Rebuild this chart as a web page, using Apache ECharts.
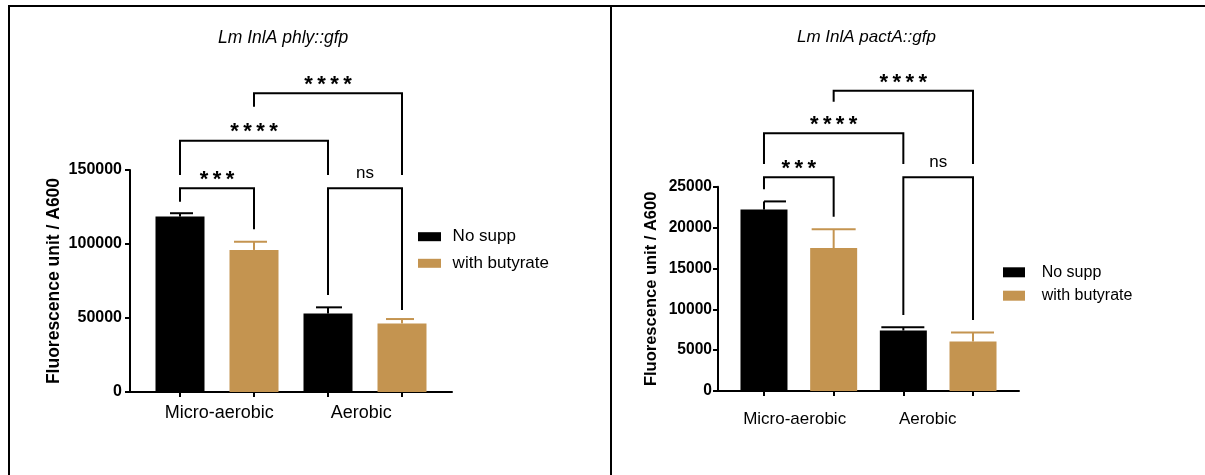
<!DOCTYPE html>
<html><head><meta charset="utf-8">
<script src="https://cdn.jsdelivr.net/npm/echarts@6/dist/echarts.min.js"></script>
<style>html,body{margin:0;padding:0;background:#fff}#c{width:1205px;height:475px}</style>
</head><body><div id="c"></div>
<script>
// ---------- data ----------
const categories = ['Micro-aerobic', 'Aerobic'];
const seriesNames = ['No supp', 'with butyrate'];
const titles = ['Lm InlA phly::gfp', 'Lm InlA pactA::gfp'];
const yAxisName = 'Fluorescence unit / A600';

// panel 1: Lm InlA phly::gfp
const phlyNoSupp = [118500, 53000];
const phlyButyrate = [96000, 46300];
const phlyNoSuppSD = [2300, 4200];
const phlyButyrateSD = [5500, 3000];
const phlyYTicks = [0, 50000, 100000, 150000];
// significance brackets: bar a, bar b (1..4), bracket level, left leg end, right leg end, label
const phlyBrackets = [
  [1, 2, 137600, 128600, 110000, '***'],
  [3, 4, 137600, 65500, 55400, 'ns'],
  [1, 3, 169800, 146600, 146600, '****'],
  [2, 4, 201800, 192800, 146600, '****']
];

// panel 2: Lm InlA pactA::gfp
const pactNoSupp = [22200, 7400];
const pactButyrate = [17500, 6050];
const pactNoSuppSD = [1000, 400];
const pactButyrateSD = [2300, 1100];
const pactYTicks = [0, 5000, 10000, 15000, 20000, 25000];
const pactBrackets = [
  [1, 2, 26150, 24700, 21330, '***'],
  [3, 4, 26150, 9300, 8700, 'ns'],
  [1, 3, 31530, 27770, 27770, '****'],
  [2, 4, 36740, 35400, 27770, '****']
];

// ---------- styling / layout ----------
const FONT = '"Liberation Sans", Arial, Helvetica, sans-serif';
const TAN = '#C49450';
const colors = ['#000000', TAN];

const panels = [
  {
    noSupp: phlyNoSupp, but: phlyButyrate, noSuppSD: phlyNoSuppSD, butSD: phlyButyrateSD,
    yTicks: phlyYTicks, brackets: phlyBrackets,
    grid: {left: 130, top: 170, width: 322, height: 222},
    barWidth: 49, labelPos: [1.53, 3.45], xMin: 0.3243, xMax: 4.6757,
    caps: [[-10, 13], [-20, 13], [-12, 14], [-16, 12]],
    xLabelSize: 18, xLabelMargin: 12, yLabelSize: 16, yLabelMargin: 8, nameSize: 17.5, nameGap: 67,
    title: {x: 218, y: 29, size: 17.5},
    legend: {left: 418, top: 227.7, w: 23, h: 9, size: 17, lh: 18, gap: 8.6, pad: 6.6}
  },
  {
    noSupp: pactNoSupp, but: pactButyrate, noSuppSD: pactNoSuppSD, butSD: pactButyrateSD,
    yTicks: pactYTicks, brackets: pactBrackets,
    grid: {left: 718, top: 186.7, width: 301, height: 204.3},
    barWidth: 47, labelPos: [1.44, 3.35], xMin: 0.34, xMax: 4.66,
    caps: [[0, 22], [-22, 22], [-22, 21], [-22, 21]],
    xLabelSize: 17, xLabelMargin: 20, yLabelSize: 15.6, yLabelMargin: 6, nameSize: 16.5, nameGap: 58,
    title: {x: 797, y: 29, size: 17},
    legend: {left: 1003, top: 264.3, w: 22, h: 10, size: 16, lh: 16, gap: 7.4, pad: 11.7}
  }
];

const option = {
  animation: false,
  backgroundColor: '#ffffff',
  textStyle: {fontFamily: FONT},
  title: [], grid: [], xAxis: [], yAxis: [], legend: [], series: [],
  graphic: [
    {type: 'line', shape: {x1: 8, y1: 6, x2: 1205, y2: 6}, style: {stroke: '#000', lineWidth: 2}},
    {type: 'line', shape: {x1: 9, y1: 5, x2: 9, y2: 475}, style: {stroke: '#000', lineWidth: 2}},
    {type: 'line', shape: {x1: 611, y1: 5, x2: 611, y2: 475}, style: {stroke: '#000', lineWidth: 2}}
  ]
};

panels.forEach((p, i) => {
  option.title.push({
    text: titles[i], left: p.title.x, top: p.title.y, padding: 0,
    textStyle: {fontFamily: FONT, fontStyle: 'italic', fontWeight: 'normal', fontSize: p.title.size, color: '#000'}
  });
  option.grid.push(Object.assign({containLabel: false, outerBoundsMode: 'none'}, p.grid));
  option.xAxis.push({
    type: 'value', gridIndex: i, min: p.xMin, max: p.xMax,
    splitLine: {show: false},
    axisLine: {show: true, onZero: false, lineStyle: {color: '#000', width: 2}},
    axisTick: {show: true, customValues: [1, 2, 3, 4], length: 5, lineStyle: {color: '#000', width: 2}},
    axisLabel: {
      customValues: p.labelPos, margin: p.xLabelMargin,
      fontFamily: FONT, fontSize: p.xLabelSize, color: '#000',
      formatter: v => {
        let best = 0;
        p.labelPos.forEach((lp, k) => { if (Math.abs(lp - v) < Math.abs(p.labelPos[best] - v)) best = k; });
        return categories[best];
      }
    }
  });
  const yMax = p.yTicks[p.yTicks.length - 1];
  option.yAxis.push({
    type: 'value', gridIndex: i, min: 0, max: yMax, interval: p.yTicks[1] - p.yTicks[0],
    name: yAxisName, nameLocation: 'middle', nameRotate: 90, nameGap: p.nameGap,
    nameTextStyle: {fontFamily: FONT, fontWeight: 'bold', fontSize: p.nameSize, color: '#000'},
    splitLine: {show: false},
    axisLine: {show: true, lineStyle: {color: '#000', width: 2}},
    axisTick: {show: true, length: 5, customValues: p.yTicks, lineStyle: {color: '#000', width: 2}},
    axisLabel: {customValues: p.yTicks, formatter: v => String(v), fontFamily: FONT, fontWeight: 'bold',
      fontSize: p.yLabelSize, color: '#000', margin: p.yLabelMargin}
  });
  option.legend.push({
    orient: 'vertical', left: p.legend.left, top: p.legend.top, padding: 0,
    itemWidth: p.legend.w, itemHeight: p.legend.h, itemGap: p.legend.gap, icon: 'rect',
    data: seriesNames, selectedMode: false,
    textStyle: {fontFamily: FONT, fontSize: p.legend.size, lineHeight: p.legend.lh, color: '#000', padding: [0, 0, 0, p.legend.pad]}
  });

  const sets = [[p.noSupp, p.noSuppSD], [p.but, p.butSD]];
  sets.forEach((s, si) => {
    option.series.push({
      type: 'bar', name: seriesNames[si], xAxisIndex: i, yAxisIndex: i,
      barWidth: p.barWidth, barGap: '-100%', z: 2,
      itemStyle: {color: colors[si]},
      data: s[0].map((v, g) => [g * 2 + si + 1, v])
    });
  });
  // error bars (mean + SD, upward)
  const errData = [];
  sets.forEach((s, si) => s[0].forEach((v, g) => errData.push([g * 2 + si + 1, v, v + s[1][g], si])));
  option.series.push({
    type: 'custom', xAxisIndex: i, yAxisIndex: i, z: 3, clip: false, silent: true,
    encode: {x: 0, y: [1, 2]},
    data: errData,
    renderItem: (params, api) => {
      const x = api.value(0), m = api.value(1), u = api.value(2), c = colors[api.value(3)];
      const cap = p.caps[x - 1];
      const pm = api.coord([x, m]), pu = api.coord([x, u]);
      return {type: 'group', children: [
        {type: 'line', shape: {x1: pm[0], y1: pm[1], x2: pu[0], y2: pu[1]}, style: {stroke: c, lineWidth: 2}},
        {type: 'line', shape: {x1: pu[0] + cap[0], y1: pu[1], x2: pu[0] + cap[1], y2: pu[1]}, style: {stroke: c, lineWidth: 2}}
      ]};
    }
  });
  // significance brackets
  option.series.push({
    type: 'custom', xAxisIndex: i, yAxisIndex: i, z: 4, clip: false, silent: true,
    encode: {x: [0, 1], y: [2, 3, 4]},
    data: p.brackets.map(b => b.slice(0, 5)),
    renderItem: (params, api) => {
      const b = p.brackets[params.dataIndex];
      const a = api.coord([b[0], b[3]]), c = api.coord([b[0], b[2]]), d = api.coord([b[1], b[2]]), e = api.coord([b[1], b[4]]);
      const isNs = b[5] === 'ns';
      const label = isNs ? 'ns' : b[5].split('').join('\u2009');
      return {type: 'group', children: [
        {type: 'polyline', shape: {points: [a, c, d, e]}, style: {stroke: '#000', lineWidth: 2, fill: null, lineJoin: 'miter'}},
        {type: 'text', x: (c[0] + d[0]) / 2, y: c[1] - (isNs ? 15 : 8.3),
          style: {text: label, align: 'center', verticalAlign: 'middle', textAlign: 'center', textVerticalAlign: 'middle',
            fontFamily: FONT, fontSize: isNs ? 17 : 22, fontWeight: isNs ? 'normal' : 'bold', fill: '#000'}}
      ]};
    }
  });
});

const chart = echarts.init(document.getElementById('c'), null, {renderer: 'canvas'});
chart.setOption(option);
</script>
</body></html>
